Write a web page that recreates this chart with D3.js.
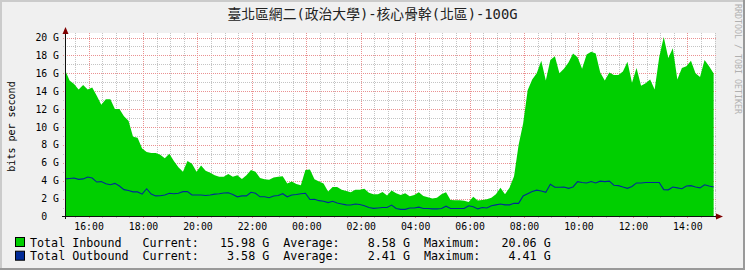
<!DOCTYPE html>
<html lang="zh-Hant">
<head>
<meta charset="utf-8">
<title>臺北區網二(政治大學)-核心骨幹(北區)-100G</title>
<script src="https://d3js.org/d3.v7.min.js"></script>
<style>
  body { margin: 0; background: #F0F0F0; }
  svg { display: block; }
  text { font-family: "DejaVu Sans Mono", "Noto Sans CJK TC", monospace; fill: #000; }
  .pre { white-space: pre; }
</style>
</head>
<body>
<div class="chart"></div>
<script>
// chart text
const title = '臺北區網二(政治大學)-核心骨幹(北區)-100G';
const yAxisLabel = 'bits per second';
const watermark = 'RRDTOOL / TOBI OETIKER';

// samples every 10 minutes, first one at 15:08
const startTime = '2024-01-01 15:08';
const stepMinutes = 10;

// Gbit/s
const inbound = [
  16.4, 15.2, 14.8, 14.2, 14.7, 14.2, 14.4, 13.5, 12.5, 13.1,
  13.1, 12.0, 12.0, 11.2, 10.7, 8.9, 8.8, 7.6, 7.2, 7.1,
  7.1, 6.9, 6.5, 7.0, 6.2, 5.5, 5.0, 6.2, 5.9, 5.0,
  5.7, 5.1, 4.9, 4.6, 4.45, 4.45, 4.75,
  4.45, 4.6, 4.2, 4.6, 5.2, 5.0, 4.3, 4.15, 4.1, 4.35,
  4.45, 4.5, 3.7, 3.9, 3.63, 3.5, 5.2, 5.25, 4.15, 3.9,
  3.7, 2.8, 3.3, 3.3, 3.0, 2.85, 2.7, 3.0, 3.0, 3.1,
  2.66, 2.5, 2.48, 2.75, 2.35, 2.9,
  2.6, 2.4, 2.6, 2.25, 2.4, 2.7, 2.3, 2.15, 2.0, 2.1,
  2.5, 2.7, 1.85, 1.82, 1.82, 1.75, 1.62, 2.2, 1.8, 1.85,
  1.92, 2.1, 2.5, 3.2, 2.5, 3.2, 4.5, 8.0, 10.4, 14.1,
  15.3, 16.0, 17.4, 15.2, 17.5, 17.9, 16.0,
  16.5, 17.2, 18.2, 17.8, 16.5, 18.1, 18.4, 18.2, 16.1, 15.2,
  16.1, 15.8, 15.8, 16.2, 17.3, 14.95, 16.6, 14.6, 14.9, 15.3,
  14.2, 17.8, 20.06, 17.7, 18.8, 15.3, 16.6, 16.8, 17.4, 16.0,
  15.6, 17.5, 16.8, 15.98
];

const outbound = [
  4.2, 4.25, 4.3, 4.15, 4.2, 4.41, 4.3, 3.85, 3.9, 3.65,
  3.55, 3.7, 3.4, 3.0, 2.9, 2.75, 2.75, 2.5, 3.1, 2.5,
  2.3, 2.32, 2.4, 2.6, 2.55, 2.6, 2.78, 2.78, 2.4, 2.4,
  2.4, 2.35, 2.4, 2.5, 2.55, 2.62, 2.66,
  2.45, 2.2, 2.3, 2.3, 2.7, 2.6, 2.2, 2.2, 2.1, 2.3,
  2.35, 2.55, 2.2, 2.4, 2.45, 2.55, 2.6, 1.9, 1.92, 1.77,
  1.7, 1.55, 1.7, 1.5, 1.4, 1.3, 1.28, 1.4, 1.35, 1.2,
  1.0, 0.91, 0.95, 1.0, 1.0, 1.28,
  0.9, 0.8, 0.8, 0.95, 0.95, 1.05, 0.9, 0.9, 0.85, 0.85,
  0.9, 1.15, 0.9, 0.9, 0.9, 0.9, 1.2, 1.1, 0.85, 1.0,
  0.95, 1.2, 1.3, 1.4, 1.3, 1.3, 1.47, 1.47, 2.3, 2.55,
  2.8, 2.95, 2.85, 2.7, 3.6, 3.26, 3.26,
  3.3, 3.15, 3.3, 3.9, 3.8, 3.75, 3.9, 3.75, 3.95, 3.9,
  3.95, 3.5, 3.45, 3.3, 3.15, 3.35, 3.75, 3.75, 3.8, 3.8,
  3.8, 3.8, 3.0, 2.98, 3.3, 3.2, 3.1, 3.4, 3.45, 3.3,
  3.2, 3.55, 3.4, 3.3
];

const xTickLabels = ['16:00', '18:00', '20:00', '22:00', '00:00', '02:00', '04:00',
                     '06:00', '08:00', '10:00', '12:00', '14:00'];
const yTickValues = [0, 2, 4, 6, 8, 10, 12, 14, 16, 18, 20];
const yTickLabels = ['0  ', '2 G', '4 G', '6 G', '8 G', '10 G', '12 G', '14 G', '16 G', '18 G', '20 G'];

const legendNames = ['Total Inbound', 'Total Outbound'];
const legendColors = ['#00CF00', '#002A97'];
const legendCurrent = [15.98, 3.58];
const legendAverage = [8.58, 2.41];
const legendMaximum = [20.06, 4.41];

const width = 745, height = 270;
const plotLeft = 65, plotRight = 715, plotTop = 33, plotBottom = 216;

const parse = d3.timeParse('%Y-%m-%d %H:%M');
const t0 = parse(startTime);
const times = inbound.map((d, i) => d3.timeMinute.offset(t0, i * stepMinutes));
const tEnd = d3.timeMinute.offset(times[times.length - 1], 3);

const x = d3.scaleTime().domain([t0, tEnd]).range([plotLeft, plotRight]);
const y = d3.scaleLinear().domain([0, 20]).range([plotBottom + 0.5, 37.5]);

const svg = d3.select('.chart').append('svg')
  .attr('width', width)
  .attr('height', height);

// background + 3d frame
svg.append('rect').attr('width', width).attr('height', height).attr('fill', '#F0F0F0');
svg.append('path').attr('d', `M1,${height} V1 H${width}`).attr('fill', 'none')
  .attr('stroke', '#CBCBCB').attr('stroke-width', 2);
svg.append('path').attr('d', `M0,${height - 1} H${width - 1} V0`).attr('fill', 'none')
  .attr('stroke', '#999999').attr('stroke-width', 2);

// canvas
svg.append('rect')
  .attr('x', plotLeft).attr('y', plotTop)
  .attr('width', plotRight - plotLeft).attr('height', plotBottom - plotTop)
  .attr('fill', '#FFFFFF');

// title
svg.append('text')
  .attr('x', width / 2).attr('y', 19)
  .attr('text-anchor', 'middle')
  .style('font-size', '13.8px')
  .style('fill', '#222')
  .text(title);

// watermark down the right side
svg.append('text')
  .attr('transform', 'translate(735,4) rotate(90)')
  .style('font-size', '8.3px')
  .style('fill', '#B0B0B0')
  .text(watermark);

// y-axis label
svg.append('text')
  .attr('transform', `translate(15,${(plotTop + plotBottom) / 2 + 2}) rotate(-90)`)
  .attr('text-anchor', 'middle')
  .style('font-size', '10px')
  .text(yAxisLabel);

// grid
const grid = svg.append('g');
const minorY = d3.range(1, 21).filter(v => v % 2 !== 0);
const majorY = yTickValues.filter(v => v > 0);
const twoHours = x.ticks(d3.timeHour.every(2));
const halfHours = x.ticks(d3.timeMinute.every(30))
  .filter(d => !(d.getMinutes() === 0 && d.getHours() % 2 === 0));

grid.selectAll('.hminor').data(minorY).enter().append('line')
  .attr('x1', plotLeft - 2).attr('x2', plotRight + 1)
  .attr('y1', d => Math.round(y(d)) + 0.5).attr('y2', d => Math.round(y(d)) + 0.5)
  .attr('stroke', '#C4C4C4').attr('stroke-dasharray', '1,1');
grid.selectAll('.vminor').data(halfHours).enter().append('line')
  .attr('x1', d => Math.round(x(d)) + 0.5).attr('x2', d => Math.round(x(d)) + 0.5)
  .attr('y1', plotTop).attr('y2', plotBottom + 3)
  .attr('stroke', '#C4C4C4').attr('stroke-dasharray', '1,1');
grid.selectAll('.hmajor').data(majorY).enter().append('line')
  .attr('x1', plotLeft - 2).attr('x2', plotRight + 1)
  .attr('y1', d => Math.round(y(d)) + 0.5).attr('y2', d => Math.round(y(d)) + 0.5)
  .attr('stroke', '#EA9191').attr('stroke-dasharray', '1,1');
grid.selectAll('.vmajor').data(twoHours).enter().append('line')
  .attr('x1', d => Math.round(x(d)) + 0.5).attr('x2', d => Math.round(x(d)) + 0.5)
  .attr('y1', plotTop).attr('y2', plotBottom + 3)
  .attr('stroke', '#EA9191').attr('stroke-dasharray', '1,1');

// inbound area
const area = d3.area()
  .x((d, i) => x(times[i]))
  .y0(y(0))
  .y1(d => y(d));
svg.append('path')
  .datum(inbound)
  .attr('d', area)
  .attr('fill', '#00CF00');

// outbound line
const line = d3.line()
  .x((d, i) => x(times[i]))
  .y(d => y(d));
svg.append('path')
  .datum(outbound)
  .attr('d', line)
  .attr('fill', 'none')
  .attr('stroke', '#002A97')
  .attr('stroke-width', 1.1);

// axes
svg.append('line')
  .attr('x1', plotLeft - 3).attr('x2', plotRight + 2)
  .attr('y1', plotBottom + 0.5).attr('y2', plotBottom + 0.5)
  .attr('stroke', '#101010');
svg.append('line')
  .attr('x1', plotLeft + 0.5).attr('x2', plotLeft + 0.5)
  .attr('y1', plotBottom + 3).attr('y2', plotTop - 1)
  .attr('stroke', '#101010');
svg.append('path')
  .attr('d', `M${plotLeft + 0.5},27 L${plotLeft + 3.5},34 L${plotLeft - 2.5},34 Z`)
  .attr('fill', '#7F0000');
svg.append('path')
  .attr('d', `M${plotRight + 8},${plotBottom + 0.5} L${plotRight + 1},${plotBottom - 2.5} L${plotRight + 1},${plotBottom + 3.5} Z`)
  .attr('fill', '#7F0000');

// y tick labels
svg.selectAll('.ylab').data(yTickValues).enter().append('text')
  .attr('class', 'pre')
  .attr('x', 59)
  .attr('y', d => y(d) + 3.5)
  .attr('text-anchor', 'end')
  .style('font-size', '9.8px')
  .text((d, i) => yTickLabels[i]);

// x tick labels
const xTickTimes = xTickLabels.map(s => {
  const [h, m] = s.split(':').map(Number);
  const d = new Date(t0);
  d.setHours(h, m, 0, 0);
  if (d < t0) d.setDate(d.getDate() + 1);
  return d;
});
svg.selectAll('.xlab').data(xTickTimes).enter().append('text')
  .attr('x', d => x(d) + 0.5)
  .attr('y', 229.5)
  .attr('text-anchor', 'middle')
  .style('font-size', '9.8px')
  .text((d, i) => xTickLabels[i]);

// legend
const fmt = d3.format('8.2f');
const legend = svg.selectAll('.legend').data(legendNames).enter().append('g')
  .attr('transform', (d, i) => `translate(0,${i * 13.7})`);
legend.append('rect')
  .attr('x', 15.5).attr('y', 237.5)
  .attr('width', 9).attr('height', 9)
  .attr('fill', (d, i) => legendColors[i])
  .attr('stroke', '#000');
legend.append('text')
  .attr('class', 'pre')
  .attr('x', 30).attr('y', 246.5)
  .style('font-size', '11.7px')
  .text((d, i) => d.padEnd(16, ' ') +
    'Current:' + fmt(legendCurrent[i]) + ' G  ' +
    'Average:' + fmt(legendAverage[i]) + ' G  ' +
    'Maximum:' + fmt(legendMaximum[i]) + ' G');
</script>
</body>
</html>
